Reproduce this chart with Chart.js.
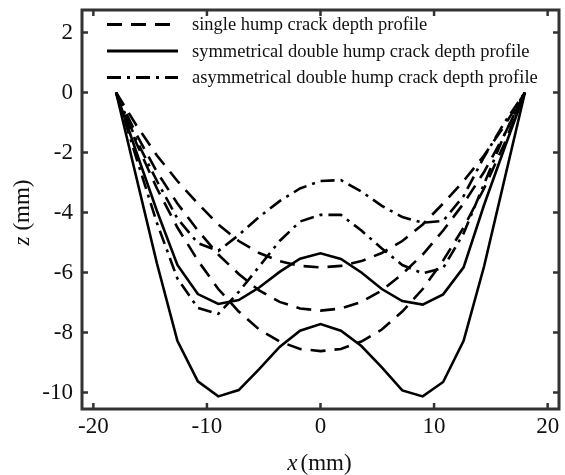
<!DOCTYPE html>
<html>
<head>
<meta charset="utf-8">
<script src="https://cdn.jsdelivr.net/npm/chart.js@4.4.1/dist/chart.umd.min.js"></script>
<style>
  html, body { margin: 0; padding: 0; background: #fff; }
  #wrap { width: 565px; height: 475px; }
</style>
</head>
<body>
<div id="wrap"><canvas id="c" width="565" height="475"></canvas></div>
<script>
// ---- data ----
const xs = [-18, -16.2, -14.4, -12.6, -10.8, -9, -7.2, -5.4, -3.6, -1.8, 0, 1.8, 3.6, 5.4, 7.2, 9, 10.8, 12.6, 14.4, 16.2, 18];

const singleHumpA = [0, -1.1, -2.1, -2.95, -3.7, -4.4, -4.95, -5.35, -5.62, -5.78, -5.83, -5.78, -5.62, -5.35, -4.95, -4.4, -3.7, -2.95, -2.1, -1.1, 0];
const singleHumpB = [0, -1.4, -2.65, -3.7, -4.6, -5.4, -6.05, -6.6, -6.98, -7.2, -7.27, -7.2, -6.98, -6.6, -6.05, -5.4, -4.6, -3.7, -2.65, -1.4, 0];
const singleHumpC = [0, -1.7, -3.2, -4.5, -5.6, -6.55, -7.3, -7.9, -8.3, -8.55, -8.62, -8.55, -8.3, -7.9, -7.3, -6.55, -5.6, -4.5, -3.2, -1.7, 0];

const symDoubleA = [0, -2.0, -3.95, -5.75, -6.72, -7.05, -6.92, -6.5, -5.98, -5.54, -5.36, -5.55, -6.0, -6.55, -6.95, -7.07, -6.73, -5.83, -3.75, -1.85, 0];
const symDoubleB = [0, -2.85, -5.7, -8.28, -9.63, -10.13, -9.92, -9.22, -8.48, -7.94, -7.72, -7.94, -8.45, -9.16, -9.93, -10.13, -9.65, -8.28, -5.8, -2.9, 0];

const asymDoubleA = [0, -1.6, -2.95, -4.2, -5.02, -5.28, -4.75, -4.15, -3.62, -3.2, -2.95, -2.92, -3.3, -3.78, -4.15, -4.34, -4.28, -3.45, -2.15, -1.0, 0];
const asymDoubleB = [0, -2.2, -4.35, -6.2, -7.18, -7.38, -6.65, -5.8, -4.95, -4.3, -4.08, -4.08, -4.6, -5.2, -5.75, -6.03, -5.85, -4.7, -3.05, -1.4, 0];

const xTickValues = [-20, -10, 0, 10, 20];
const yTickValues = [-10, -8, -6, -4, -2, 0, 2];

const legendLabels = [
  'single hump crack depth profile',
  'symmetrical double hump crack depth profile',
  'asymmetrical double hump crack depth profile'
];

// ---- styles ----
const SERIF = "'Liberation Serif', 'Times New Roman', serif";
const DASH = [15, 9];
const SOLID = [];
const DASHDOT = [14, 6, 3, 6];
const LINE_W = 2.6;
const FRAME = '#333333';

function toPoints(ys) { return xs.map((x, i) => ({ x: x, y: ys[i] })); }
function ds(label, ys, dash) {
  return {
    label: label, data: toPoints(ys), borderColor: '#000', backgroundColor: '#000',
    borderWidth: LINE_W, borderDash: dash, pointRadius: 0, pointHoverRadius: 0,
    showLine: true, tension: 0, fill: false
  };
}

const datasets = [
  ds(legendLabels[0], singleHumpA, DASH),
  ds(legendLabels[0], singleHumpB, DASH),
  ds(legendLabels[0], singleHumpC, DASH),
  ds(legendLabels[1], symDoubleA, SOLID),
  ds(legendLabels[1], symDoubleB, SOLID),
  ds(legendLabels[2], asymDoubleA, DASHDOT),
  ds(legendLabels[2], asymDoubleB, DASHDOT)
];
const legendStyles = [DASH, SOLID, DASHDOT];

const framePlugin = {
  id: 'frameAndDecor',
  afterDraw(chart) {
    const ctx = chart.ctx;
    const a = chart.chartArea;
    const xs_ = chart.scales.x, ys_ = chart.scales.y;
    ctx.save();
    // inward ticks
    ctx.strokeStyle = FRAME;
    ctx.lineWidth = 2.5;
    ctx.setLineDash([]);
    const TL = 6;
    xTickValues.forEach(v => {
      const px = xs_.getPixelForValue(v);
      ctx.beginPath();
      ctx.moveTo(px, a.bottom); ctx.lineTo(px, a.bottom - TL);
      ctx.moveTo(px, a.top); ctx.lineTo(px, a.top + TL);
      ctx.stroke();
    });
    yTickValues.forEach(v => {
      const py = ys_.getPixelForValue(v);
      ctx.beginPath();
      ctx.moveTo(a.left, py); ctx.lineTo(a.left + TL, py);
      ctx.moveTo(a.right, py); ctx.lineTo(a.right - TL, py);
      ctx.stroke();
    });
    // frame
    ctx.lineWidth = 3;
    ctx.strokeRect(a.left, a.top, a.right - a.left, a.bottom - a.top);

    // legend
    const lx0 = a.left + 25, lx1 = a.left + 96, tx = a.left + 110;
    const rowY = [a.top + 14.5, a.top + 41, a.top + 67.5];
    ctx.font = '18.5px ' + SERIF;
    ctx.textBaseline = 'middle';
    ctx.textAlign = 'left';
    legendLabels.forEach((lab, i) => {
      ctx.strokeStyle = '#000';
      ctx.lineWidth = 2.8;
      ctx.setLineDash(legendStyles[i]);
      ctx.beginPath();
      ctx.moveTo(lx0, rowY[i]); ctx.lineTo(lx1, rowY[i]);
      ctx.stroke();
      ctx.setLineDash([]);
      ctx.fillStyle = '#111';
      ctx.fillText(lab, tx, rowY[i] + 1);
    });

    // axis titles
    ctx.fillStyle = '#111';
    ctx.textBaseline = 'middle';
    const fItal = 'italic 23px ' + SERIF, fReg = '23px ' + SERIF;
    // x title
    ctx.font = fItal; const wx = ctx.measureText('x').width;
    ctx.font = fReg; const wmm = ctx.measureText('(mm)').width;
    const gapX = 3;
    const cx = (a.left + a.right) / 2 - 1;
    let sx = cx - (wx + gapX + wmm) / 2;
    const ty = 464;
    ctx.font = fItal; ctx.fillText('x', sx, ty);
    ctx.font = fReg; ctx.fillText('(mm)', sx + wx + gapX, ty);
    // y title (rotated)
    ctx.save();
    ctx.translate(23, (a.top + a.bottom) / 2 + 3);
    ctx.rotate(-Math.PI / 2);
    ctx.font = fItal; const wz = ctx.measureText('z').width;
    const gapY = 6;
    let sz = -(wz + gapY + wmm) / 2;
    ctx.fillText('z', sz, 0);
    ctx.font = fReg; ctx.fillText('(mm)', sz + wz + gapY, 0);
    ctx.restore();

    ctx.restore();
  }
};

new Chart(document.getElementById('c'), {
  type: 'scatter',
  data: { datasets: datasets },
  options: {
    responsive: false,
    animation: false,
    devicePixelRatio: 1,
    layout: { padding: { top: 10, right: 6, left: 0, bottom: 0 } },
    plugins: { legend: { display: false }, tooltip: { enabled: false } },
    elements: { line: { borderCapStyle: 'butt', borderJoinStyle: 'miter' } },
    scales: {
      x: {
        type: 'linear', min: -21, max: 21,
        grid: { display: false, drawTicks: false },
        border: { display: false },
        ticks: { color: '#111', font: { family: SERIF, size: 23 }, padding: 4, autoSkip: false, maxRotation: 0 },
        afterBuildTicks(scale) { scale.ticks = xTickValues.map(v => ({ value: v })); },
        afterFit(scale) { scale.height = 66; scale.paddingLeft = 0; scale.paddingRight = 0; }
      },
      y: {
        type: 'linear', min: -10.55, max: 2.75,
        grid: { display: false, drawTicks: false },
        border: { display: false },
        ticks: { color: '#111', font: { family: SERIF, size: 23 }, padding: 9, autoSkip: false },
        afterBuildTicks(scale) { scale.ticks = yTickValues.map(v => ({ value: v })); },
        afterFit(scale) { scale.width = 82; scale.paddingTop = 0; scale.paddingBottom = 0; }
      }
    }
  },
  plugins: [framePlugin]
});
</script>
</body>
</html>
